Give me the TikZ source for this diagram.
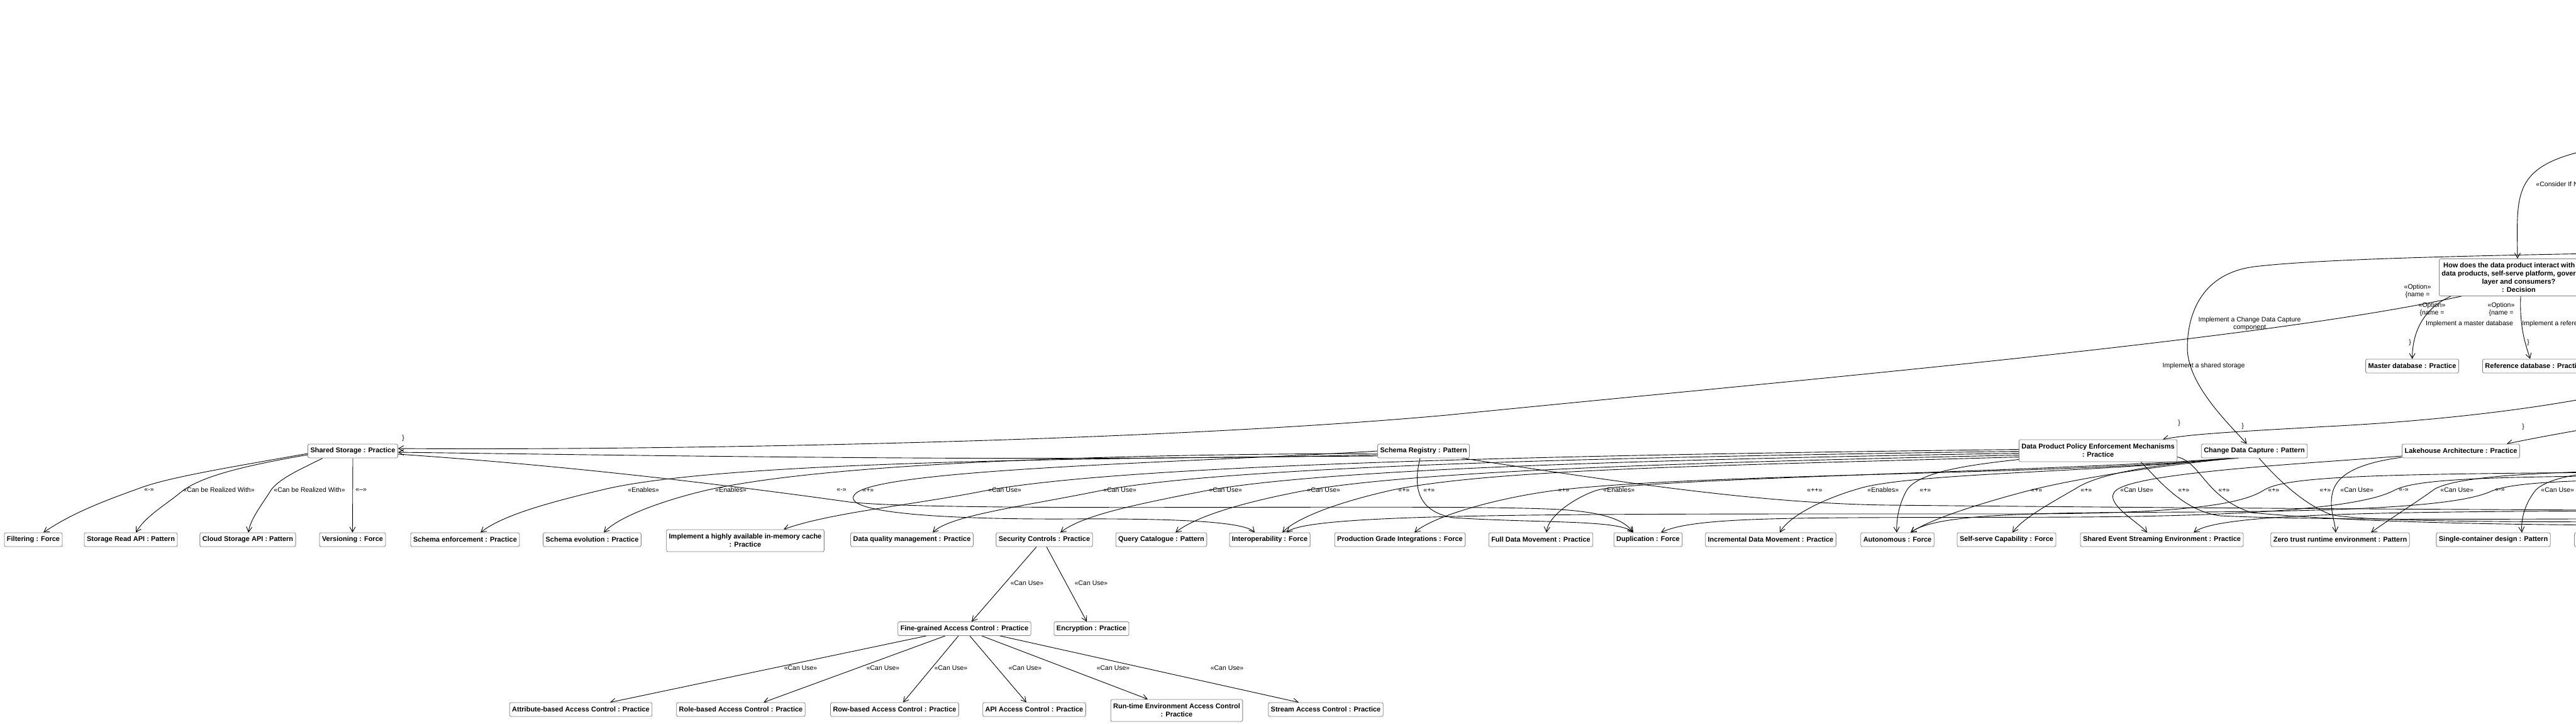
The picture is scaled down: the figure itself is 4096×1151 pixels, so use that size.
\documentclass[tikz,border=0pt]{standalone}
\usepackage{fontspec}
\setmainfont{Liberation Sans}
\usetikzlibrary{arrows.meta}
\pgfdeclarelayer{bg}
\pgfdeclarelayer{edges}
\pgfsetlayers{bg,edges,main}
\tikzset{
    elem/.style={rectangle, draw=black!50, line width=0.8pt, rounded corners=2.5pt, fill=white, inner xsep=4pt, inner ysep=4.5pt, minimum height=22pt, align=center, font=\bfseries\fontsize{11}{13}\selectfont},
    elem2/.style={elem, inner ysep=7pt},
    lbl/.style={font=\fontsize{10.5}{12}\selectfont, inner sep=1pt, align=center},
    rel/.style={line width=0.9pt, -{Straight Barb[length=8pt,width=9pt]}}
}
\begin{document}
\begin{tikzpicture}[x=1pt, y=1pt]

    \useasboundingbox (0,0) rectangle (4096,-1151);
    \begin{pgfonlayer}{bg}
        \fill[white] (0,0) rectangle (4096,-1151);
    \end{pgfonlayer}
    \clip (0,0) rectangle (4096,-1151);

    % Decision and its options
    \node[elem, anchor=north west, inner ysep=6pt] (dec) at (3878,-411)
    {How does the data product interact with other\\data products, self-serve platform, governance\\layer and consumers?\\: Decision};
    \node[elem] (mdb) at (3835.5,-582) {Master database : Practice};
    \node[elem, anchor=west] (rdb) at (3947,-582) {Reference database : Practice};

    % Row 1
    \node[elem] (ss) at (561,-717) {Shared Storage : Practice};
    \node[elem] (sr) at (2263.5,-717) {Schema Registry : Pattern};
    \node[elem2] (dppem) at (3336,-716.5) {Data Product Policy Enforcement Mechanisms\\: Practice};
    \node[elem] (cdc) at (3584.5,-717) {Change Data Capture : Pattern};
    \node[elem] (lha) at (3913,-717) {Lakehouse Architecture : Practice};

    % Row 2
    \node[elem] (flt) at (53,-858) {Filtering : Force};
    \node[elem] (sra) at (208,-858) {Storage Read API : Pattern};
    \node[elem] (csa) at (394,-858) {Cloud Storage API : Pattern};
    \node[elem] (ver) at (560.5,-858) {Versioning : Force};
    \node[elem] (sen) at (739.5,-858) {Schema enforcement : Practice};
    \node[elem] (sev) at (941.5,-858) {Schema evolution : Practice};
    \node[elem2] (imc) at (1185,-859.5) {Implement a highly available in-memory cache\\: Practice};
    \node[elem] (dqm) at (1450,-858) {Data quality management : Practice};
    \node[elem] (sec) at (1660.5,-858) {Security Controls : Practice};
    \node[elem] (qc) at (1846.5,-858) {Query Catalogue : Pattern};
    \node[elem] (iop) at (2019,-858) {Interoperability : Force};
    \node[elem] (pgi) at (2226,-858) {Production Grade Integrations : Force};
    \node[elem] (fdm) at (2450,-858) {Full Data Movement : Practice};
    \node[elem] (dup) at (2620.5,-858) {Duplication : Force};
    \node[elem] (idm) at (2815.5,-858) {Incremental Data Movement : Practice};
    \node[elem] (aut) at (3017,-858) {Autonomous : Force};
    \node[elem] (ssc) at (3190.5,-858) {Self-serve Capability : Force};
    \node[elem] (sese) at (3437.5,-858) {Shared Event Streaming Environment : Practice};
    \node[elem] (ztr) at (3721,-858) {Zero trust runtime environment : Pattern};
    \node[elem] (scd) at (3964.5,-858) {Single-container design : Pattern};
    \node[elem, anchor=west, minimum width=140pt] (nxt) at (4093,-858) {};

    % Row 3
    \node[elem] (fgac) at (1533.5,-999.5) {Fine-grained Access Control : Practice};
    \node[elem] (enc) at (1735.5,-999.5) {Encryption : Practice};

    % Row 4
    \node[elem] (abac) at (923.5,-1128) {Attribute-based Access Control : Practice};
    \node[elem] (rbac) at (1178,-1128) {Role-based Access Control : Practice};
    \node[elem] (rowac) at (1422.5,-1128) {Row-based Access Control : Practice};
    \node[elem] (apiac) at (1644.5,-1128) {API Access Control : Practice};
    \node[elem2] (rtac) at (1871,-1129.5) {Run-time Environment Access Control\\: Practice};
    \node[elem] (sac) at (2108,-1128) {Stream Access Control : Practice};

    % Ends outside the picture
    \coordinate (topsrc) at (4200,-225);
    \coordinate (cdcsrc) at (4300,-400);
    \coordinate (dpsrc) at (4300,-585);
    \coordinate (lhsrc) at (4300,-650);
    \coordinate (offR1) at (4400,-812);
    \coordinate (offR2) at (4400,-824);
    \coordinate (offR3) at (4400,-836);
    \coordinate (offR4) at (4400,-830);
    \coordinate (offS1) at (4400,-745);
    \coordinate (offS2) at (4400,-738);
    \coordinate (offS3) at (4400,-812);
    \coordinate (offS4) at (4400,-750);
    \coordinate (offS5) at (4400,-755);
    \coordinate (offS6) at (4400,-760);

    \begin{pgfonlayer}{edges}
    \clip (0,0) rectangle (4096,-1151);

    % Options of the decision
    \draw[rel] (topsrc) .. controls (3990,-250) and (4002,-290) .. ([xshift=-2pt]dec.north)
        node[lbl, anchor=west] at (4031,-293) {«Consider If Needed»};
    \draw[rel] ([xshift=19pt]dec.south west) .. controls (3855,-490) and (3836,-525) .. (mdb.north)
        node[lbl] at (3867,-491.5) {«Option»\\\{name =}
        node[lbl] at (3926.5,-515) {Implement a master database}
        node[lbl] at (3832,-545) {\}};
    \draw[rel] ([xshift=130pt]dec.south west) .. controls (4006,-520) and (4015,-545) .. ([xshift=76pt]rdb.north west)
        node[lbl] at (3977,-491.5) {«Option»\\\{name =}
        node[lbl, anchor=west] at (4009,-515) {Implement a reference database}
        node[lbl] at (4020,-545) {\}};
    \draw[rel] ([xshift=36pt]dec.south west) .. controls (3600,-540) and (2900,-600) .. (2300,-660)
        .. controls (1800,-705) and (1000,-716) .. ([yshift=4pt]ss.east)
        node[lbl] at (3844,-462.5) {«Option»\\\{name =}
        node[lbl] at (3504,-582) {Implement a shared storage}
        node[lbl] at (641,-697) {\}};
    \draw[rel] (cdcsrc) .. controls (4000,-405) and (3700,-410) .. (3584,-424)
        .. controls (3500,-435) and (3478,-500) .. (3478,-553)
        .. controls (3478,-610) and (3540,-670) .. ([xshift=-12pt]cdc.north)
        node[lbl] at (3577,-515) {Implement a Change Data Capture\\component}
        node[lbl] at (3566,-678) {\}};
    \draw[rel] (dpsrc) .. controls (4150,-640) and (3900,-668) .. (3700,-678)
        .. controls (3560,-686) and (3480,-690) .. ([xshift=-23pt]dppem.north east)
        node[lbl] at (3465,-673) {\}};
    \draw[rel] (lhsrc) .. controls (4150,-675) and (4050,-692) .. ([xshift=-21pt]lha.north east)
        node[lbl] at (4012,-679) {\}};

    % Shared Storage
    \draw[rel] ([yshift=-4pt]ss.west) .. controls (371,-742) and (272,-758) .. (225,-775)
        .. controls (178,-792) and (118,-813) .. ([xshift=16pt]flt.north)
        node[lbl, anchor=west] at (228,-779) {«-»};
    \draw[rel] ([yshift=-6pt]ss.west) .. controls (391,-740) and (318,-757) .. (287,-783)
        .. controls (264,-802) and (231,-821) .. ([xshift=8pt]sra.north)
        node[lbl, anchor=west] at (290,-779) {«Can be Realized With»};
    \draw[rel] ([xshift=-48pt]ss.south) .. controls (480,-745) and (445,-760) .. (431,-779)
        .. controls (418,-800) and (398,-825) .. ([xshift=1pt]csa.north)
        node[lbl, anchor=west] at (434,-779) {«Can be Realized With»};
    \draw[rel] (ss.south) -- (ver.north)
        node[lbl, anchor=west] at (564,-779) {«--»};
    \draw[rel] ([yshift=-5pt]ss.east) .. controls (900,-740) and (1150,-770) .. (1350,-798)
        .. controls (1500,-815) and (2300,-800) .. (2480,-810)
        .. controls (2560,-815) and (2585,-830) .. ([xshift=-23.5pt]dup.north)
        node[lbl, anchor=west] at (1329,-779) {«-»};

    % Schema Registry
    \draw[rel] ([yshift=-8pt]sr.west) .. controls (1700,-728) and (1150,-735) .. (965,-777)
        .. controls (880,-797) and (800,-818) .. ([xshift=24.5pt]sen.north)
        node[lbl, anchor=west] at (997,-779) {«Enables»};
    \draw[rel] ([yshift=-4pt]sr.west) .. controls (1700,-722) and (1300,-740) .. (1125,-779)
        .. controls (1060,-794) and (985,-820) .. ([xshift=18.5pt]sev.north)
        node[lbl, anchor=west] at (1136,-779) {«Enables»};
    \draw[rel] (sr.west) .. controls (1900,-735) and (1400,-745) .. (1360,-785)
        .. controls (1330,-815) and (1500,-826) .. (1700,-825)
        .. controls (1880,-824) and (1980,-830) .. ([xshift=-24pt]iop.north)
        node[lbl, anchor=west] at (1370,-779) {«+»};
    \draw[rel] ([xshift=-5.5pt]sr.south) .. controls (2248,-770) and (2250,-812) .. (2310,-823)
        .. controls (2450,-832) and (2575,-826) .. ([xshift=-23.5pt]dup.north)
        node[lbl, anchor=west] at (2262,-779) {«+»};
    \draw[rel] ([xshift=61.5pt]sr.south) .. controls (2600,-770) and (2800,-800) .. (3000,-803)
        .. controls (3300,-806) and (3800,-810) .. (offR1)
        node[lbl, anchor=west] at (2872,-779) {«++»};
    \draw[rel] ([yshift=-6pt]sr.west) .. controls (1700,-735) and (1100,-725) .. ([yshift=-2pt]ss.east);

    % Data Product Policy Enforcement Mechanisms
    \draw[rel] ([yshift=2pt]dppem.west) .. controls (2600,-722) and (1800,-735) .. (1562,-781)
        .. controls (1450,-803) and (1320,-815) .. ([xshift=61pt]imc.north)
        node[lbl, anchor=west] at (1570,-779) {«Can Use»};
    \draw[rel] ([yshift=-1pt]dppem.west) .. controls (2600,-726) and (1950,-740) .. (1745,-781)
        .. controls (1620,-806) and (1510,-820) .. ([xshift=33pt]dqm.north)
        node[lbl, anchor=west] at (1753,-779) {«Can Use»};
    \draw[rel] ([yshift=-4pt]dppem.west) .. controls (2650,-730) and (2100,-745) .. (1913,-781)
        .. controls (1800,-803) and (1720,-820) .. ([xshift=25.5pt]sec.north)
        node[lbl, anchor=west] at (1921,-779) {«Can Use»};
    \draw[rel] ([yshift=-7pt]dppem.west) .. controls (2700,-735) and (2250,-748) .. (2069,-781)
        .. controls (1970,-800) and (1900,-822) .. ([xshift=22.5pt]qc.north)
        node[lbl, anchor=west] at (2077,-779) {«Can Use»};
    \draw[rel] ([yshift=-10pt]dppem.west) .. controls (2750,-740) and (2380,-745) .. (2214,-779)
        .. controls (2120,-800) and (2060,-825) .. ([xshift=20pt]iop.north)
        node[lbl, anchor=west] at (2222,-779) {«+»};
    \draw[rel] ([yshift=-14pt]dppem.west) .. controls (3120,-740) and (3050,-752) .. (3032,-779)
        .. controls (3020,-800) and (3015,-825) .. ([xshift=-1pt]aut.north)
        node[lbl, anchor=west] at (3051,-779) {«+»};
    \draw[rel] ([xshift=68pt]dppem.south) .. controls (3430,-760) and (3470,-812) .. (3530,-820)
        .. controls (3700,-828) and (4000,-825) .. (offR2)
        node[lbl, anchor=west] at (3462,-779) {«+»};
    \draw[rel] ([yshift=-10pt]dppem.east) .. controls (3500,-735) and (3505,-790) .. (3580,-815)
        .. controls (3800,-835) and (4100,-835) .. (offR3)
        node[lbl, anchor=west] at (3526,-779) {«+»};

    % Change Data Capture
    \draw[rel] ([xshift=-38.5pt]cdc.south) .. controls (3300,-748) and (2640,-760) .. (2545,-778)
        .. controls (2520,-783) and (2462,-815) .. ([xshift=9pt]fdm.north)
        node[lbl, anchor=west] at (2548,-779) {«Enables»};
    \draw[rel] ([xshift=-38.5pt]cdc.south) .. controls (3350,-750) and (3050,-752) .. (2962,-775)
        .. controls (2900,-792) and (2845,-820) .. ([xshift=14.5pt]idm.north)
        node[lbl, anchor=west] at (2968,-779) {«Enables»};
    \draw[rel] ([xshift=-38.5pt]cdc.south) .. controls (3300,-755) and (2700,-752) .. (2470,-780)
        .. controls (2380,-792) and (2280,-820) .. ([xshift=23pt]pgi.north)
        node[lbl, anchor=west] at (2476,-779) {«+»};
    \draw[rel] ([xshift=-30pt]cdc.south) .. controls (3450,-738) and (3300,-760) .. (3218,-782)
        .. controls (3150,-800) and (3070,-825) .. ([xshift=21pt]aut.north)
        node[lbl, anchor=west] at (3228,-779) {«+»};
    \draw[rel] ([xshift=-25pt]cdc.south) .. controls (3450,-735) and (3340,-750) .. (3300,-777)
        .. controls (3260,-800) and (3215,-825) .. ([xshift=9.5pt]ssc.north)
        node[lbl, anchor=west] at (3307,-779) {«+»};
    \draw[rel] ([xshift=7.5pt]cdc.south) .. controls (3620,-760) and (3660,-800) .. (3706,-818)
        .. controls (3760,-830) and (4000,-830) .. (offR4)
        node[lbl, anchor=west] at (3687,-779) {«+»};

    % Lakehouse Architecture
    \draw[rel] ([yshift=-8pt]lha.west) .. controls (3650,-738) and (3390,-752) .. (3363,-781)
        .. controls (3345,-800) and (3400,-830) .. ([xshift=-23.5pt]sese.north)
        node[lbl, anchor=west] at (3370,-779) {«Can Use»};
    \draw[rel] ([yshift=-10pt]lha.west) .. controls (3760,-735) and (3720,-750) .. (3710,-779)
        .. controls (3702,-805) and (3712,-825) .. ([xshift=-7pt]ztr.north)
        node[lbl, anchor=west] at (3720,-779) {«Can Use»};

    % From beyond the right edge
    \draw[rel] (offS1) .. controls (4100,-748) and (3920,-752) .. (3872,-777)
        .. controls (3840,-800) and (3800,-825) .. ([xshift=49pt]ztr.north)
        node[lbl, anchor=west] at (3879,-779) {«Can Use»};
    \draw[rel] (offS2) .. controls (4150,-742) and (4060,-752) .. (4032,-779)
        .. controls (4015,-800) and (4008,-825) .. ([xshift=45.5pt]scd.north)
        node[lbl, anchor=west] at (4039,-779) {«Can Use»};
    \draw[rel] (offS3) .. controls (3800,-812) and (3530,-815) .. ([xshift=50.5pt]sese.north);
    \draw[rel] (offS4) .. controls (3800,-752) and (3640,-755) .. (3600,-779)
        .. controls (3560,-805) and (3450,-817) .. (3200,-817)
        .. controls (2500,-817) and (2080,-815) .. ([xshift=27pt]iop.north)
        node[lbl, anchor=west] at (3605,-779) {«+»};
    \draw[rel] (offS5) .. controls (4000,-757) and (3850,-758) .. (3808,-779)
        .. controls (3770,-800) and (3650,-820) .. (3300,-822)
        .. controls (2900,-824) and (2700,-818) .. ([xshift=20.5pt]dup.north)
        node[lbl, anchor=west] at (3813,-779) {«-»};
    \draw[rel] (offS6) .. controls (4100,-762) and (4000,-765) .. (3961,-781)
        .. controls (3920,-800) and (3800,-812) .. (3500,-814)
        .. controls (3250,-815) and (3080,-815) .. ([xshift=21pt]aut.north)
        node[lbl, anchor=west] at (3966,-779) {«-»};

    % Security Controls
    \draw[rel] ([xshift=-12.5pt]sec.south) -- ([xshift=11.5pt]fgac.north)
        node[lbl] at (1633,-927) {«Can Use»};
    \draw[rel] ([xshift=3.5pt]sec.south) -- ([xshift=-7.5pt]enc.north)
        node[lbl] at (1735,-927) {«Can Use»};

    % Fine-grained Access Control
    \draw[rel] ([xshift=-60.5pt]fgac.south) -- ([xshift=46.5pt]abac.north)
        node[lbl] at (1273,-1062) {«Can Use»};
    \draw[rel] ([xshift=-30.5pt]fgac.south) -- ([xshift=36pt]rbac.north)
        node[lbl] at (1404,-1062) {«Can Use»};
    \draw[rel] ([xshift=-9.5pt]fgac.south) -- ([xshift=13.5pt]rowac.north)
        node[lbl] at (1512,-1062) {«Can Use»};
    \draw[rel] ([xshift=8.5pt]fgac.south) -- ([xshift=-12.5pt]apiac.north)
        node[lbl] at (1630,-1062) {«Can Use»};
    \draw[rel] ([xshift=27.5pt]fgac.south) -- ([xshift=-46pt]rtac.north)
        node[lbl] at (1770,-1062) {«Can Use»};
    \draw[rel] ([xshift=56.5pt]fgac.south) -- ([xshift=-43pt]sac.north)
        node[lbl] at (1951,-1062) {«Can Use»};
    \end{pgfonlayer}

\end{tikzpicture}
\end{document}
